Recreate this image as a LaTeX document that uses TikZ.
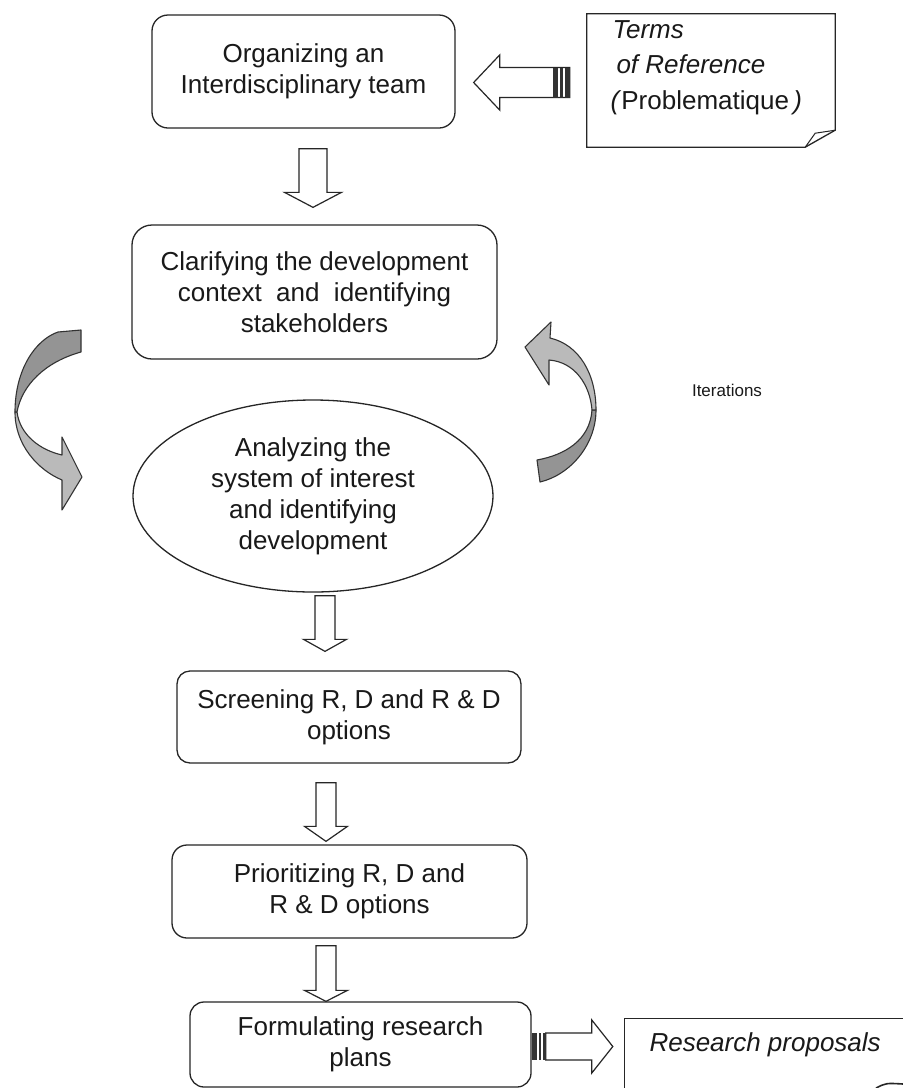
\documentclass[tikz,border=0pt]{standalone}
\usepackage{fontspec}
\setmainfont{Liberation Sans}
\usetikzlibrary{shapes.geometric,calc}
\newcommand{\blockdown}[8]{%
  \draw[hollow] let \p1=(#1.south), \p2=(#2.north) in
   ({(#3-#6)*1pt},{\y1-#4pt}) -- ({(#3+#6)*1pt},{\y1-#4pt})
   -- ({(#3+#6)*1pt},{\y2+#5pt+#8pt}) -- ({(#3+#7)*1pt},{\y2+#5pt+#8pt})
   -- ({#3*1pt},{\y2+#5pt}) -- ({(#3-#7)*1pt},{\y2+#5pt+#8pt})
   -- ({(#3-#6)*1pt},{\y2+#5pt+#8pt}) -- cycle;}
\begin{document}
\begin{tikzpicture}[x=1pt,y=-1pt,
  every node/.style={font=\fontsize{26}{31}\selectfont, text=black!90},
  procbox/.style={draw=black!85, line width=1.3pt, align=center, inner sep=0pt},
  docshape/.style={draw=none, inner sep=0pt},
  hollow/.style={draw=black!85, fill=white, line width=1.2pt, line join=miter},
  stripe/.style={fill=black!80, draw=none},
  curvydark/.style={draw=black!80, fill=black!42, line width=1.1pt, line join=round},
  curvylight/.style={draw=black!80, fill=black!27, line width=1.1pt, line join=round},
  outline/.style={draw=black!85, line width=1.3pt},
]
\useasboundingbox (0,0) rectangle (903,1088);
\fill[white] (0,0) rectangle (903,1088);
\clip (0,0) rectangle (903,1088);

% process boxes
\node[procbox, rounded corners=16pt, minimum width=303pt, minimum height=113pt] (b1) at (303.5,71.5)
  {Organizing an\\Interdisciplinary team};
\node[procbox, rounded corners=20pt, minimum width=365pt, minimum height=134pt] (b2) at (314.5,292)
  {Clarifying the development\\context\ \ and\ \ identifying\\stakeholders};
\node[procbox, ellipse, minimum width=360pt, minimum height=192pt] (ell) at (313,496)
  {Analyzing the\\system of interest\\and identifying\\development};
\node[procbox, rounded corners=13pt, minimum width=344pt, minimum height=92pt] (b3) at (349,717)
  {Screening R, D and R \& D\\options};
\node[procbox, rounded corners=15pt, minimum width=355pt, minimum height=93pt] (b4) at (349.5,891.5)
  {Prioritizing R, D and\\R \& D options};
\node[procbox, rounded corners=14pt, minimum width=341pt, minimum height=85pt] (b5) at (360.5,1044.5)
  {Formulating research\\plans};

% documents
\node[docshape, minimum width=248pt, minimum height=133pt] (doc1) at (711,80.5) {};
\draw[outline] (doc1.north west) -- (doc1.north east) -- ($(doc1.south east)+(0,-17)$)
  -- ($(doc1.south east)+(-30,0)$) -- (doc1.south west) -- cycle;
\draw[outline, line width=1pt] ($(doc1.south east)+(-30,0)$) -- ($(doc1.south east)+(-20,-14)$)
  -- ($(doc1.south east)+(0,-17)$);
\node[anchor=west, align=left, font=\fontsize{26}{35.5}\selectfont] (doc1txt) at (607,67.5)
  {\hspace{2pt}\textit{Terms}\\\hspace{6pt}\textit{of Reference}\\\textit{(}Problematique\textit{\,)}};

\node[docshape, minimum width=290pt, minimum height=80pt] (doc2) at (770,1059) {};
\draw[outline] (doc2.south west) -- (doc2.north west) -- (doc2.north east) -- (doc2.south east);
\draw[outline, line width=1.6pt] (876,1088) .. controls (886,1083) .. (903,1084);
\node[anchor=west, font=\fontsize{26}{31}\selectfont\itshape] (doc2txt) at (646,1045) {Research proposals};

% label
\node[font=\fontsize{17}{20}\selectfont] (iter) at (727,390) {Iterations};

% down block arrows
\blockdown{b1}{b2}{313}{20}{17}{14}{28.5}{15}
\blockdown{ell}{b3}{325}{3}{19}{10}{21.5}{12}
\blockdown{b3}{b4}{326}{19}{3}{10}{21.5}{15}
\blockdown{b4}{b5}{326}{7}{0}{10}{21.5}{11}

% striped arrow: terms of reference -> team
\draw[hollow] let \p1=(doc1.west), \p2=(b1.east) in
  ({\x1-17pt},-67.5pt) -- ({\x2+44pt},-67.5pt) -- ({\x2+44pt},-55pt) -- ({\x2+18pt},-82.5pt)
  -- ({\x2+44pt},-110pt) -- ({\x2+44pt},-97.5pt) -- ({\x1-17pt},-97.5pt) -- cycle;
\path let \p1=(doc1.west) in
  coordinate (s1) at ({\x1-34pt},-67.5pt) coordinate (s2) at ({\x1-17pt},-97.5pt);
\fill[stripe] (s1) rectangle ($(s1)+(5,30)$);
\fill[stripe] ($(s1)+(7,0)$) rectangle ($(s1)+(10,30)$);
\fill[stripe] ($(s1)+(12,0)$) rectangle (s2);

% striped arrow: plans -> proposals
\draw[hollow] let \p1=(b5.east), \p2=(doc2.west) in
  ({\x1+14pt},-1033pt) -- ({\x2-33pt},-1033pt) -- ({\x2-33pt},-1020pt) -- ({\x2-12pt},-1046.5pt)
  -- ({\x2-33pt},-1073pt) -- ({\x2-33pt},-1060pt) -- ({\x1+14pt},-1060pt) -- cycle;
\path let \p1=(b5.east) in coordinate (t1) at ({\x1},-1033pt);
\fill[stripe] (t1) rectangle ($(t1)+(5,27)$);
\fill[stripe] ($(t1)+(7,0)$) rectangle ($(t1)+(9.5,27)$);
\fill[stripe] ($(t1)+(11.5,0)$) rectangle ($(t1)+(14,27)$);

% iteration arrows (left, going down)
\draw[curvylight] (15,412) .. controls (15,445) and (38,470) .. (62,480) -- (62,510) -- (82,477)
  -- (62,437) -- (62,455) .. controls (40,450) and (20,435) .. (17,412) -- cycle;
\draw[curvydark] (81,330) -- (58,332) .. controls (35,340) and (15,370) .. (15,412)
  -- (17,412) .. controls (22,385) and (45,362) .. (81,352) -- cycle;

% iteration arrows (right, going up)
\draw[curvydark] (596,410) .. controls (596,445) and (570,475) .. (540,482) -- (537,460)
  .. controls (565,455) and (590,440) .. (592,410) -- cycle;
\draw[curvylight] (550,338) -- (551,322) -- (525,347) -- (549,385) -- (549,360)
  .. controls (575,362) and (590,385) .. (592,410) -- (596,410)
  .. controls (596,375) and (580,345) .. (550,338) -- cycle;
\end{tikzpicture}
\end{document}
